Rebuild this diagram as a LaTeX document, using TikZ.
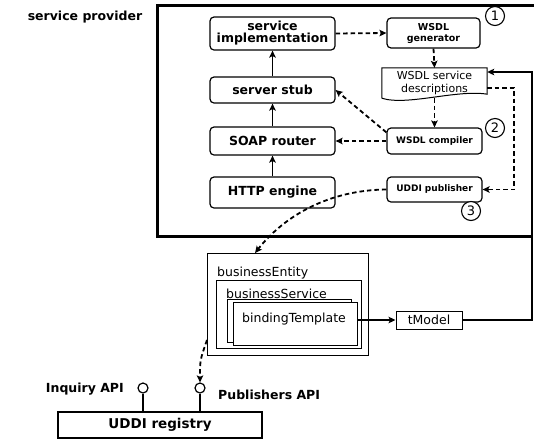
\documentclass[tikz,border=0pt]{standalone}
\usepackage{fontspec}
\setmainfont{DejaVu Sans}
\usetikzlibrary{arrows.meta,calc}

\tikzset{
  layer/.style={draw, rounded corners=4pt, line width=1.2pt, minimum width=125pt,
    align=center, inner sep=1pt, font=\bfseries\fontsize{12.5}{14}\selectfont},
  tool/.style={draw, rounded corners=4pt, line width=1.2pt, minimum width=95pt,
    align=center, inner sep=1pt, font=\bfseries\fontsize{9}{10.5}\selectfont},
  plainbox/.style={draw, line width=1pt, fill=white},
  plainlabel/.style={inner sep=0pt, anchor=base west, font=\fontsize{12.5}{14}\selectfont},
  stepnum/.style={circle, draw, line width=1.1pt, fill=white, inner sep=0pt,
    minimum size=19pt, font=\fontsize{13}{13}\selectfont},
  apiball/.style={circle, draw, line width=1.2pt, fill=white, inner sep=0pt, minimum size=10pt},
  boldlabel/.style={inner sep=0pt, font=\bfseries\fontsize{12.5}{14}\selectfont},
  tip/.style={-{Stealth[length=7pt,width=6.5pt,inset=1.5pt]}},
  flow/.style={line width=1.8pt, tip},
  dashflow/.style={line width=1.8pt, dash pattern=on 4.5pt off 3pt, tip},
}

\begin{document}
\begin{tikzpicture}[x=1pt,y=-1pt]
\useasboundingbox (0,0) rectangle (534,440);

% service provider frame (open to the right)
\draw[line width=3pt] (545,5) -- (157,5) -- (157,236) -- (532,236);
\node[boldlabel] (sp) at (85,17) {service provider};

% protocol stack
\node[layer, minimum height=33pt] (impl) at (272.5,33.5) {service\\[-2pt]implementation};
\node[layer, minimum height=26pt] (stub) at (272.5,90) {server stub};
\node[layer, minimum height=28pt] (soap) at (272.5,141) {SOAP router};
\node[layer, minimum height=31pt] (http) at (272.5,192.5) {HTTP engine};

\draw[flow] (http) -- (soap);
\draw[flow] (soap) -- (stub);
\draw[flow] (stub) -- (impl);

% WSDL tools
\node[tool, minimum width=93pt, minimum height=30pt,
      font=\bfseries\fontsize{9.5}{11}\selectfont] (gen) at (433.5,33) {WSDL\\generator};
\node[tool, minimum height=26pt] (comp) at (434.5,141) {WSDL compiler};
\node[tool, minimum height=25pt] (pub) at (434.5,189.5) {UDDI publisher};

% WSDL description document
\node[minimum width=105pt, minimum height=30pt, inner sep=0pt, align=center,
      font=\fontsize{11}{13}\selectfont] (desc) at (434.5,83) {WSDL service\\descriptions};
\draw[line width=1pt] (desc.south west) -- (desc.north west) -- (desc.north east)
  -- ([yshift=4]desc.south east)
  .. controls ($(desc.south east)+(-30,-9)$) and ($(desc.south west)+(25,8)$) .. (desc.south west);

% step numbers
\node[stepnum] (n1) at (495,16) {1};
\node[stepnum] (n2) at (495,128) {2};
\node[stepnum] (n3) at (471,211) {3};

% WSDL flows
\draw[dashflow] (impl.east) -- (gen.west);
\draw[dashflow] (gen.south) -- (desc.north);
\draw[dashflow] (desc.south) -- (comp.north);
\draw[dashflow] ([yshift=-5]comp.north west) -- (stub.east);
\draw[dashflow] (comp.west) -- (soap.west -| soap.east);
\draw[dashflow] ([yshift=-5]desc.east) -- ++(27,0) |- (pub.east);

% UDDI data structures
\draw[plainbox] (207,253) rectangle (368,355);
\coordinate (entity-top) at (255,253);
\coordinate (entity-side) at (207,340);
\node[plainlabel] (entlbl) at (217,276) {businessEntity};
\draw[plainbox] (216,280) rectangle (361,348);
\node[plainlabel] (svclbl) at (226,298) {businessService};
\draw[plainbox] (227,299) rectangle (351,342);
\node[plainbox, minimum width=124pt, minimum height=43pt, inner sep=0pt] (bind) at (295,323.5) {};
\node[plainlabel] (bindlbl) at (242,322) {bindingTemplate};
\node[plainbox, minimum width=66pt, minimum height=18pt, inner sep=0pt,
      font=\fontsize{12.5}{14}\selectfont] (tmodel) at (429,320) {tModel};

\draw[flow, line width=1.4pt] (bind.east |- tmodel.west) -- (tmodel.west);
\coordinate (turn) at (532,72);
\draw[flow, line width=1.4pt] (tmodel.east) -| (turn) -- ([yshift=11]desc.east);

% publishing to the registry
\draw[dashflow] (pub.west) .. controls (330,190) and (285,215) .. (entity-top);

% UDDI registry
\node[draw, line width=1.2pt, minimum width=204pt, minimum height=26pt, inner sep=0pt,
      font=\bfseries\fontsize{13.5}{15}\selectfont] (reg) at (160,425) {UDDI registry};
\node[apiball] (inq) at (143,388) {};
\node[apiball] (pubapi) at (200,388) {};
\draw[line width=1.2pt] (inq.south) -- (inq.south |- reg.north);
\draw[line width=1.2pt] (pubapi.south) -- (pubapi.south |- reg.north);
\node[boldlabel, anchor=east] (inqlbl) at (124,389) {Inquiry API};
\node[boldlabel, anchor=west] (publbl) at (218,395) {Publishers API};

\draw[dashflow] (entity-side) .. controls (200,360) .. (pubapi.north);
\end{tikzpicture}
\end{document}
